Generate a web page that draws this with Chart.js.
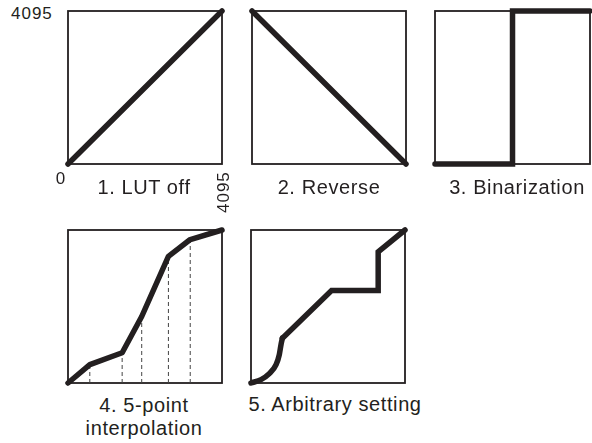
<!DOCTYPE html>
<html>
<head>
<meta charset="utf-8">
<script src="https://cdn.jsdelivr.net/npm/chart.js@4"></script>
<style>
  html, body { margin: 0; padding: 0; background: #fff; overflow: hidden; }
  body { width: 592px; height: 443px; position: relative; }
  canvas { position: absolute; }
  .lbl, .tick {
    position: absolute; color: #231f20; white-space: nowrap;
    font-family: "Liberation Sans", Arial, sans-serif;
  }
  .lbl { font-size: 20px; line-height: 20px; letter-spacing: 0.6px; text-align: center; }
  .tick { font-size: 17px; line-height: 17px; letter-spacing: 1px; }
</style>
</head>
<body>
<canvas id="p1" width="166" height="165" style="left:62px;top:5px"></canvas>
<canvas id="p2" width="166" height="165" style="left:246px;top:5px"></canvas>
<canvas id="p3" width="163" height="165" style="left:429px;top:5px"></canvas>
<canvas id="p4" width="166" height="165" style="left:62px;top:224px"></canvas>
<canvas id="p5" width="166" height="165" style="left:245px;top:224px"></canvas>

<div id="tTop" class="tick" style="left:11px;top:5px"></div>
<div id="tZero" class="tick" style="left:51px;top:170px;width:20px;text-align:center"></div>
<div id="tRight" class="tick" style="left:215px;top:213px;transform-origin:0 0;transform:rotate(-90deg)"></div>

<div id="l1" class="lbl" style="left:64px;top:177px;width:160px"></div>
<div id="l2" class="lbl" style="left:249px;top:177px;width:160px"></div>
<div id="l3" class="lbl" style="left:437px;top:177px;width:160px"></div>
<div id="l4" class="lbl" style="left:64px;top:394px;width:160px;line-height:23px"></div>
<div id="l5" class="lbl" style="left:235px;top:394px;width:200px"></div>

<script>
// escala de la LUT
const axisMin = 0;
const axisMax = 4095;
const tickLabels = ["0", "4095"];
const panelTitles = ["1. LUT off", "2. Reverse", "3. Binarization", "4. 5-point\ninterpolation", "5. Arbitrary setting"];

// curvas de cada panel (entrada -> salida)
const lutOffX = [0, 4095];
const lutOffY = [0, 4095];

const reverseX = [0, 4095];
const reverseY = [4095, 0];

const binX = [0, 2048, 2048, 4095];
const binY = [0, 0, 4095, 4095];

const interpX = [0, 580, 1440, 1960, 2670, 3250, 4095];
const interpY = [0, 490, 810, 1780, 3390, 3840, 4095];

const arbCurveX = [0, 266, 487, 667, 753, 799, 835];
const arbCurveY = [0, 90, 250, 491, 762, 1032, 1200];
const arbLineX = [835, 2142, 3382, 3382, 4095];
const arbLineY = [1200, 2473, 2473, 3510, 4095];

const INK = "#231f20";

function toPts(xs, ys) {
    return xs.map((x, i) => ({x: x, y: ys[i]}));
}

function thick(xs, ys, extra) {
    return Object.assign({
        data: toPts(xs, ys),
        borderColor: INK,
        borderWidth: 5.5,
        borderCapStyle: "round",
        borderJoinStyle: "round",
        pointRadius: 0,
        tension: 0,
        clip: false,
        order: 0
    }, extra || {});
}

// marco cuadrado alrededor del area
const frame = {
    id: "frame",
    beforeDatasetsDraw(chart) {
        const ctx = chart.ctx, a = chart.chartArea;
        ctx.save();
        ctx.strokeStyle = INK;
        ctx.lineWidth = 1.8;
        ctx.strokeRect(a.left, a.top, a.right - a.left, a.bottom - a.top);
        ctx.restore();
    }
};

function panel(id, datasets, pad) {
    new Chart(document.getElementById(id), {
        type: "line",
        data: { datasets: datasets },
        options: {
            responsive: false,
            animation: false,
            layout: { padding: pad },
            plugins: { legend: { display: false }, tooltip: { enabled: false } },
            scales: {
                x: { type: "linear", min: axisMin, max: axisMax, display: false },
                y: { type: "linear", min: axisMin, max: axisMax, display: false }
            }
        },
        plugins: [frame]
    });
}

const pad = {left: 6, top: 6, right: 6, bottom: 6};

panel("p1", [thick(lutOffX, lutOffY)], pad);
panel("p2", [thick(reverseX, reverseY)], pad);
panel("p3", [thick(binX, binY, {borderJoinStyle: "miter"})], {left: 6, top: 6, right: 2, bottom: 6});

// lineas punteadas bajo los 5 puntos
let drops = [];
for (let i = 1; i < interpX.length - 1; i++) {
    drops.push({
        data: [{x: interpX[i], y: axisMin}, {x: interpX[i], y: interpY[i]}],
        borderColor: "#444",
        borderWidth: 1,
        borderDash: [4, 3],
        pointRadius: 0,
        clip: false,
        order: 1
    });
}
panel("p4", [thick(interpX, interpY)].concat(drops), pad);

panel("p5", [
    thick(arbCurveX, arbCurveY, {cubicInterpolationMode: "monotone"}),
    thick(arbLineX, arbLineY, {borderJoinStyle: "miter"})
], pad);

// textos
document.getElementById("tTop").textContent = tickLabels[1];
document.getElementById("tZero").textContent = tickLabels[0];
document.getElementById("tRight").textContent = tickLabels[1];
panelTitles.forEach((t, i) => {
    const el = document.getElementById("l" + (i + 1));
    el.innerHTML = t.split("\n").join("<br>");
});
</script>
</body>
</html>
